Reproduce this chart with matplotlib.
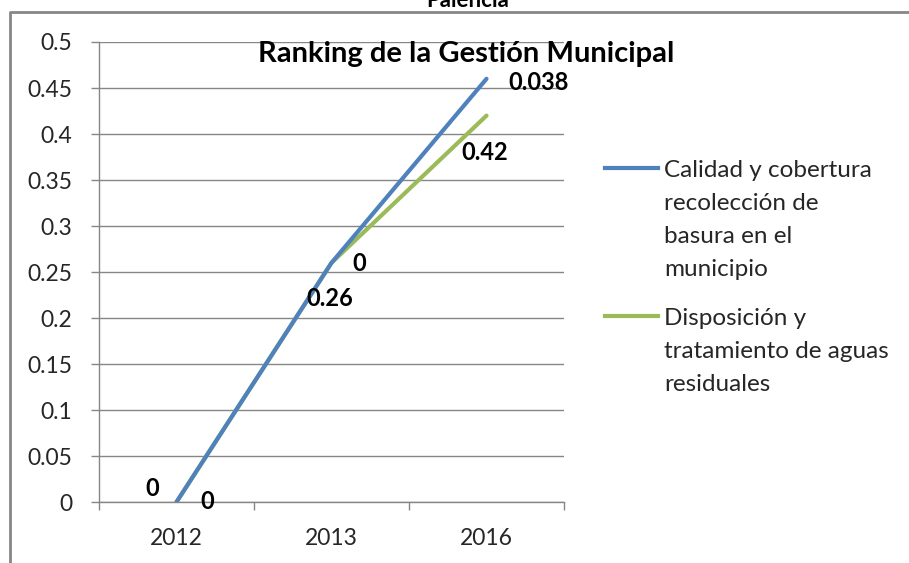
import matplotlib
matplotlib.use("Agg")
import matplotlib.pyplot as plt
from matplotlib.lines import Line2D

plt.rcParams['font.family'] = ['Lato', 'DejaVu Sans']

years = ["2012", "2013", "2016"]
basura = [0, 0.26, 0.46]
aguas = [0, 0.26, 0.42]
basura_labels = ["0", "0.26", "0.038"]
aguas_labels = ["0", "0", "0.42"]
legend_names = ["Calidad y cobertura\nrecolección de\nbasura en el\nmunicipio",
                "Disposición y\ntratamiento de aguas\nresiduales"]

BLUE = "#4F81BD"
GREEN = "#9BBB59"
GRAY = "#868686"

fig = plt.figure(figsize=(9.09, 5.63), dpi=100)
ax = fig.add_axes([0.1089, 0.1083, 0.5116, 0.8171])

x = list(range(len(years)))
ax.plot(x, aguas, color=GREEN, lw=3, solid_capstyle='round', zorder=3)
ax.plot(x, basura, color=BLUE, lw=3, solid_capstyle='round', zorder=4)

ax.set_xlim(-0.5, len(years) - 0.5)
ax.set_ylim(0, 0.5)
ax.set_yticks([i * 0.05 for i in range(11)])
ax.set_yticklabels(["0"] + [("%.2f" % (i * 0.05)).rstrip("0").rstrip(".") for i in range(1, 11)])
ax.set_xticks(x)
ax.set_xticklabels(years)
ax.set_xticks([i - 0.5 for i in range(len(years) + 1)], minor=True)
ax.tick_params(axis='x', which='major', length=0, pad=19, labelsize=16.5, labelcolor='#262626')
ax.tick_params(axis='x', which='minor', length=6, width=1, color=GRAY, direction='out')
ax.tick_params(axis='y', length=6, width=1, color=GRAY, pad=13, labelsize=16.5, labelcolor='#262626')
ax.grid(axis='y', color=GRAY, lw=1)
ax.set_axisbelow(True)
for s in ['top', 'right']:
    ax.spines[s].set_visible(False)
for s in ['left', 'bottom']:
    ax.spines[s].set_color(GRAY)
    ax.spines[s].set_linewidth(1)

# data labels (offsets in pixels)
basura_off = [(-24, 14), (-2, -36), (52, -4)]
aguas_off = [(31, 1), (28, -1), (-2, -37)]
for vals, labs, offs in [(basura, basura_labels, basura_off), (aguas, aguas_labels, aguas_off)]:
    for xi, v, lab, (dx, dy) in zip(x, vals, labs, offs):
        ax.annotate(lab, (xi, v), xytext=(dx * 0.72, dy * 0.72), textcoords='offset points',
                    ha='center', va='center', fontsize=17, fontweight='bold', color='black',
                    annotation_clip=False, zorder=5)

fig.text(466 / 909, 1 - 62 / 563, "Ranking de la Gestión Municipal", ha='center', va='baseline',
         fontsize=21, fontweight='bold', color='black')
fig.text(468 / 909, 1 - 7 / 563, "Palencia", ha='center', va='baseline',
         fontsize=16, fontweight='bold', color='black')

# legend (handle level with first text line)
line_px = 33.5
for name, col, ypx in [(legend_names[0], BLUE, 168), (legend_names[1], GREEN, 316)]:
    fig.add_artist(Line2D([605 / 909, 658 / 909], [1 - ypx / 563] * 2, color=col, lw=3,
                          transform=fig.transFigure))
    last_base = ypx + 8 + (name.count("\n")) * line_px
    fig.text(664 / 909, 1 - last_base / 563, name, ha='left', va='baseline', fontsize=17.5,
             color='#262626', linespacing=1.71)

# chart border
fig.add_artist(Line2D([10 / 909, 10 / 909, 1], [0, 1 - 12 / 563, 1 - 12 / 563], color=GRAY, lw=2,
                      transform=fig.transFigure))

fig.savefig("out.png", dpi=100)
